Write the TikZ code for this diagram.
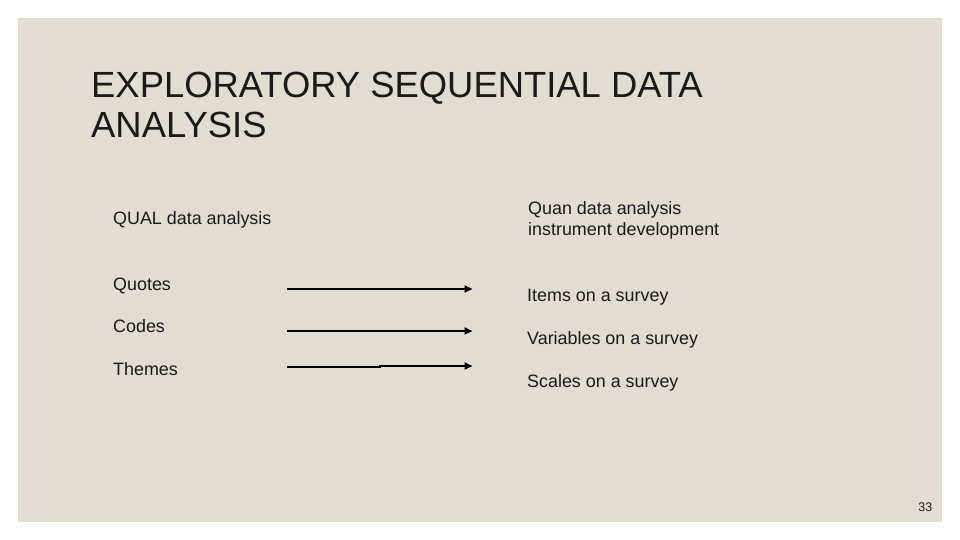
\documentclass[tikz,border=0pt]{standalone}
\usepackage{fontspec}
\setmainfont{Liberation Sans}
\usetikzlibrary{arrows.meta}
\definecolor{slidebg}{HTML}{E2DCD2}
\definecolor{ink}{HTML}{1A1A1A}
\tikzset{
  title/.style={anchor=base west,inner sep=0pt,text=ink,font=\fontsize{36.4}{40}\selectfont,align=left},
  body/.style={anchor=base west,inner sep=0pt,text=ink,font=\fontsize{17.9}{21}\selectfont,align=left},
  link/.style={line width=2pt,draw=black,-{Triangle[length=8pt,width=7pt]}},
  pagenum/.style={anchor=base east,inner sep=0pt,text=ink,font=\fontsize{12.5}{14}\selectfont}
}
\begin{document}
\begin{tikzpicture}[x=1pt,y=-1pt]
\useasboundingbox (0,0) rectangle (960,540);
\fill[white] (0,0) rectangle (960,540);
\fill[slidebg] (18,18) rectangle (942,522);
\node[title] (t1) at (91,98) {EXPLORATORY SEQUENTIAL DATA};
\node[title] (t2) at (91,138) {ANALYSIS};
\node[body] (qual) at (113,224.5) {QUAL data analysis};
\node[body] (quan1) at (528,214) {Quan data analysis};
\node[body] (quan2) at (528,235) {instrument development};
\node[body] (quotes) at (113,290) {Quotes};
\node[body] (codes) at (113,332.5) {Codes};
\node[body] (themes) at (113,375.5) {Themes};
\node[body] (items) at (527,301) {Items on a survey};
\node[body] (vars) at (527,344) {Variables on a survey};
\node[body] (scales) at (527,387.5) {Scales on a survey};
\node[pagenum] (pg) at (932.5,511.5) {33};
\coordinate (a1s) at (287,289);
\coordinate (a1e) at (472.5,289);
\coordinate (a2s) at (287,331);
\coordinate (a2e) at (472.5,331);
\coordinate (a3s) at (287,367);
\coordinate (a3j) at (379.5,367);
\coordinate (a3k) at (379.5,366);
\coordinate (a3e) at (472.5,366);
\draw[link] (a1s) -- (a1e);
\draw[link] (a2s) -- (a2e);
\draw[link] (a3s) -- (a3j) -- (a3k) -- (a3e);
\end{tikzpicture}
\end{document}
